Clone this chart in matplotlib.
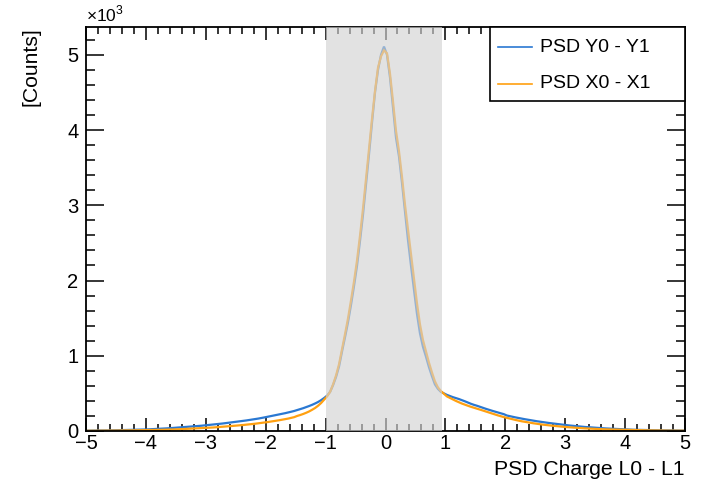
import numpy as np
import matplotlib
matplotlib.use("Agg")
import matplotlib.pyplot as plt
from matplotlib.ticker import MultipleLocator, FixedLocator
from matplotlib.patches import Rectangle
from matplotlib.lines import Line2D

plt.rcParams['font.family'] = ['Liberation Sans', 'DejaVu Sans']
plt.rcParams['mathtext.fontset'] = 'custom'
plt.rcParams['mathtext.rm'] = 'Liberation Sans'

# histogram range and bin count
x_min, x_max, n_bins = -5.0, 5.0, 200

# PSD Y0 - Y1 counts per bin
counts_y = [
    4, 5, 5, 6, 6, 6, 7, 7, 8, 9,
    9, 10, 11, 12, 13, 14, 15, 17, 18, 20,
    21, 23, 25, 27, 29, 31, 33, 36, 39, 42,
    44, 47, 50, 53, 56, 59, 62, 66, 70, 74,
    78, 82, 86, 90, 95, 99, 104, 109, 114, 120,
    124, 129, 134, 140, 146, 152, 158, 165, 172, 180,
    188, 196, 204, 212, 220, 228, 237, 246, 256, 266,
    278, 290, 303, 317, 332, 348, 366, 386, 410, 438,
    470, 520, 610, 720, 860, 1060, 1250, 1450, 1680, 1930,
    2200, 2530, 2880, 3280, 3680, 4100, 4500, 4800, 5000, 5110,
    5000, 4700, 4300, 3900, 3650, 3300, 2920, 2540, 2200, 1880,
    1560, 1300, 1120, 990, 850, 730, 620, 560, 520, 500,
    480, 465, 450, 438, 425, 410, 395, 378, 362, 348,
    336, 322, 308, 295, 282, 270, 258, 246, 235, 224,
    206, 197, 188, 180, 172, 164, 157, 150, 143, 136,
    130, 124, 118, 112, 107, 102, 97, 92, 87, 82,
    77, 73, 69, 65, 61, 57, 54, 51, 48, 45,
    42, 39, 36, 34, 32, 30, 28, 26, 24, 22,
    20, 19, 17, 16, 15, 14, 13, 12, 11, 10,
    9, 9, 8, 8, 7, 7, 6, 6, 5, 5,
]

# PSD X0 - X1 counts per bin
counts_x = [
    3, 3, 4, 4, 4, 5, 5, 5, 6, 6,
    6, 7, 7, 8, 8, 9, 9, 10, 11, 11,
    12, 13, 14, 14, 15, 16, 17, 18, 20, 21,
    22, 24, 25, 27, 29, 31, 33, 35, 37, 40,
    42, 44, 47, 50, 53, 56, 59, 62, 66, 70,
    73, 76, 80, 84, 88, 92, 97, 102, 107, 112,
    118, 124, 130, 136, 143, 150, 157, 165, 174, 184,
    200, 212, 226, 242, 260, 282, 306, 336, 372, 415,
    460, 520, 620, 740, 890, 1090, 1290, 1500, 1740, 1990,
    2270, 2600, 2960, 3350, 3750, 4150, 4520, 4830, 4980, 5060,
    5020, 4750, 4380, 3990, 3720, 3380, 3010, 2680, 2340, 2010,
    1700, 1420, 1210, 1060, 910, 780, 660, 580, 530, 495,
    460, 440, 420, 400, 382, 365, 350, 336, 322, 310,
    298, 285, 272, 258, 245, 232, 220, 208, 196, 185,
    175, 165, 155, 146, 137, 129, 122, 115, 108, 102,
    96, 90, 85, 80, 75, 71, 67, 63, 59, 55,
    52, 49, 46, 43, 40, 38, 35, 33, 31, 29,
    27, 25, 24, 22, 21, 19, 18, 17, 16, 15,
    14, 13, 12, 11, 11, 10, 9, 9, 8, 8,
    7, 7, 6, 6, 5, 5, 5, 4, 4, 4,
]

labels = ['PSD Y0 - Y1', 'PSD X0 - X1']
colors = ['#2a78d2', '#ffa010']

# selection window shown as grey band
band_lo, band_hi = -1.0, 0.94
y_top = 5370

edges = np.linspace(x_min, x_max, n_bins + 1)
centers = 0.5 * (edges[:-1] + edges[1:])

fig = plt.figure(figsize=(7.03, 4.8), dpi=100)
ax = fig.add_axes([86 / 703, 1 - 431 / 480, (685 - 86) / 703, (431 - 27) / 480])

for counts, col in zip([counts_y, counts_x], colors):
    ax.plot(centers, counts, color=col, lw=1.6, solid_joinstyle='miter')

ax.set_xlim(x_min, x_max)
ax.set_ylim(0, y_top)

# ROOT style ticks on all sides
ax.xaxis.set_major_locator(MultipleLocator(1))
ax.xaxis.set_minor_locator(MultipleLocator(0.2))
ax.yaxis.set_minor_locator(MultipleLocator(200))
ax.yaxis.set_major_locator(FixedLocator([0, 1000, 2000, 3000, 4000, 5000]))
ax.set_yticklabels(['0', '1', '2', '3', '4', '5'])

ax.tick_params(axis='x', which='major', direction='in', length=9.5, width=1.1,
               top=True, labelsize=14.5, pad=2.5)
ax.tick_params(axis='x', which='minor', direction='in', length=4.8, width=1.1, top=True)
ax.tick_params(axis='y', which='major', direction='in', length=13, width=1.1,
               right=True, labelsize=14.5, pad=5.5)
ax.tick_params(axis='y', which='minor', direction='in', length=6.5, width=1.1, right=True)
for s in ax.spines.values():
    s.set_linewidth(1.3)

ax.set_xlabel('PSD Charge L0 - L1', fontsize=15.2, loc='right', labelpad=5)
ax.set_ylabel('[Counts]', fontsize=15.2, loc='top', labelpad=19)

fig.text(86 / 703, 1 - 21 / 480, r'$\times10^{3}$', fontsize=12.5, ha='left', va='baseline')

# translucent band over everything
ax.axvspan(band_lo, band_hi, ymin=0, ymax=1, color='#d2d2d2', alpha=0.64,
           lw=0, zorder=10, clip_on=False)

# ROOT-like legend box in the upper right corner
lx0, ly0 = (490 - 86) / 599, 1 - (101 - 27) / 404
ax.add_patch(Rectangle((lx0, ly0), 1 - lx0, 1 - ly0, transform=ax.transAxes,
                       facecolor='white', edgecolor='black', lw=1.2, zorder=20,
                       clip_on=False))
entry_y = [1 - (47 - 27) / 404, 1 - (84 - 27) / 404]
for yy, lab, col in zip(entry_y, labels, colors):
    ax.add_line(Line2D([(498 - 86) / 599, (532 - 86) / 599], [yy, yy],
                       transform=ax.transAxes, color=col, lw=1.2, zorder=21))
    ax.text((540 - 86) / 599, yy, lab, transform=ax.transAxes, fontsize=14,
            ha='left', va='center', zorder=21)

fig.savefig('out.png', dpi=100)
